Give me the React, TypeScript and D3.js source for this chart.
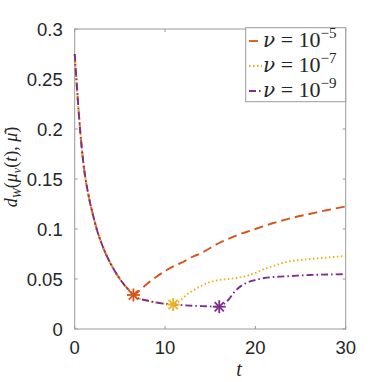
import React from 'react';
import * as d3 from 'd3';

// ---- data ----
const decayT = [0, 0.3, 0.6, 1, 1.5, 2, 2.5, 3, 3.5, 4, 4.5, 5, 5.5, 6, 6.5];
const decayD = [0.275, 0.235, 0.199, 0.163, 0.135, 0.115, 0.098, 0.085, 0.074, 0.065, 0.057, 0.050, 0.044, 0.039, 0.034];

const plateauT = [7, 8, 9, 10, 10.9];
const plateauD = [0.031, 0.0285, 0.0265, 0.0252, 0.0245];

const plateau2T = [12, 13, 14, 15, 16];
const plateau2D = [0.0238, 0.0233, 0.0229, 0.0226, 0.0223];

const tail5T = [7, 8, 9, 10, 11, 12, 13, 14, 15, 16, 17, 18, 19, 20, 22, 24, 26, 28, 30];
const tail5D = [0.037, 0.045, 0.052, 0.058, 0.063, 0.067, 0.072, 0.076, 0.081, 0.086, 0.090, 0.094, 0.097, 0.100, 0.106, 0.111, 0.115, 0.119, 0.1225];

const tail7T = [11.5, 12, 12.5, 13, 14, 15, 16, 17, 18, 19, 20, 21, 22, 23, 24, 25, 26, 28, 30];
const tail7D = [0.027, 0.031, 0.035, 0.038, 0.043, 0.047, 0.049, 0.050, 0.0512, 0.053, 0.056, 0.060, 0.063, 0.066, 0.068, 0.069, 0.070, 0.0715, 0.073];

const tail9T = [16.5, 17, 17.5, 18, 19, 20, 21, 22, 24, 26, 28, 30];
const tail9D = [0.025, 0.029, 0.035, 0.040, 0.046, 0.049, 0.051, 0.052, 0.053, 0.054, 0.0545, 0.0547];

const xTicks = [0, 10, 20, 30];
const xTickLabels = ['0', '10', '20', '30'];
const yTicks = [0, 0.05, 0.1, 0.15, 0.2, 0.25, 0.3];
const yTickLabels = ['0', '0.05', '0.1', '0.15', '0.2', '0.25', '0.3'];

const legendExponents = ['−5', '−7', '−9'];
const colors = ['#D95319', '#EDB120', '#7E2F8E'];
const dashes = ['9,5', '1.6,2.4', '7,3,1.6,3'];

function zip(ts: number[], ds: number[]) {
  return ts.map((t, i) => [t, ds[i]] as [number, number]);
}

const series5 = [...zip(decayT, decayD), ...zip(tail5T, tail5D)];
const series7 = [...zip(decayT, decayD), ...zip(plateauT, plateauD), ...zip(tail7T, tail7D)];
const series9 = [...zip(decayT, decayD), ...zip(plateauT, plateauD), ...zip(plateau2T, plateau2D), ...zip(tail9T, tail9D)];
const stars: [number, number][] = [
  [decayT[decayT.length - 1], decayD[decayD.length - 1]],
  [plateauT[plateauT.length - 1], plateauD[plateauD.length - 1]],
  [plateau2T[plateau2T.length - 1], plateau2D[plateau2D.length - 1]],
];

const L = 74.7, R = 345.7, T = 29, B = 329;

export default function App() {
  const x = d3.scaleLinear().domain([0, 30]).range([L, R]);
  const y = d3.scaleLinear().domain([0, 0.3]).range([B, T]);
  const line = d3.line<[number, number]>().x(d => x(d[0])).y(d => y(d[1])).curve(d3.curveMonotoneX);
  const all = [series5, series7, series9];
  const axisColor = '#9a9a9a';
  const textColor = '#262626';
  const tickFont = "'Liberation Sans', Arial, sans-serif";
  const mathFont = "'DejaVu Serif', 'Liberation Serif', serif";
  const labelFont = "'Liberation Serif', 'Times New Roman', serif";

  const star = (cx: number, cy: number, c: string, k: number) => {
    const r = 6.5;
    const segs = [0, 45, 90, 135].map(a => {
      const rad = (a * Math.PI) / 180;
      return (
        <line key={a} x1={cx - r * Math.cos(rad)} y1={cy - r * Math.sin(rad)} x2={cx + r * Math.cos(rad)} y2={cy + r * Math.sin(rad)} stroke={c} strokeWidth={1.8} />
      );
    });
    return <g key={k}>{segs}</g>;
  };

  const legTop = 27.7, legLeft = 245.7, legRight = 345.7, legBottom = 101.7;
  const rowY = [41, 66, 91];

  return (
    <svg width={382} height={382} style={{ position: 'absolute', left: 0, top: 0, background: '#fff' }}>
      <rect x={0} y={0} width={382} height={382} fill="#fff" />
      {/* axes box */}
      <rect x={L} y={T} width={R - L} height={B - T} fill="none" stroke={axisColor} strokeWidth={1} />
      {xTicks.map((t, i) => (
        <g key={'xt' + i}>
          <line x1={x(t)} x2={x(t)} y1={B} y2={B - 3} stroke={axisColor} />
          <line x1={x(t)} x2={x(t)} y1={T} y2={T + 3} stroke={axisColor} />
          <text x={x(t)} y={B + 25} textAnchor="middle" fontFamily={tickFont} fontSize={18.5} fill={textColor}>{xTickLabels[i]}</text>
        </g>
      ))}
      {yTicks.map((v, i) => (
        <g key={'yt' + i}>
          <line x1={L} x2={L + 3} y1={y(v)} y2={y(v)} stroke={axisColor} />
          <line x1={R} x2={R - 3} y1={y(v)} y2={y(v)} stroke={axisColor} />
          <text x={L - 12} y={y(v) + 6.5} textAnchor="end" fontFamily={tickFont} fontSize={18.5} fill={textColor}>{yTickLabels[i]}</text>
        </g>
      ))}
      {/* curves */}
      {all.map((s, i) => (
        <path key={'c' + i} d={line(s) || ''} fill="none" stroke={colors[i]} strokeWidth={1.9} strokeDasharray={dashes[i]} />
      ))}
      {stars.map((p, i) => star(x(p[0]), y(p[1]), colors[i], i))}
      {/* axis labels */}
      <text x={239} y={376} textAnchor="middle" fontFamily={labelFont} fontStyle="italic" fontSize={20} fill={textColor}>t</text>
      <text transform="translate(17,167) rotate(-90)" textAnchor="middle" fontFamily={labelFont} fontSize={18} fill={textColor}>
        <tspan fontStyle="italic">d</tspan>
        <tspan fontStyle="italic" fontSize={12} dy={3.5}>W</tspan>
        <tspan dy={-3.5}>(</tspan>
        <tspan fontStyle="italic">μ</tspan>
        <tspan fontStyle="italic" fontSize={12} dy={3.5}>ν</tspan>
        <tspan dy={-3.5}>(</tspan>
        <tspan fontStyle="italic">t</tspan>
        <tspan>), </tspan>
        <tspan fontStyle="italic">μ̄</tspan>
        <tspan>)</tspan>
      </text>
      {/* legend */}
      <rect x={legLeft} y={legTop} width={legRight - legLeft} height={legBottom - legTop} fill="#fff" stroke={axisColor} strokeWidth={1} />
      {colors.map((c, i) => (
        <g key={'lg' + i}>
          <line x1={249} x2={262} y1={rowY[i]} y2={rowY[i]} stroke={c} strokeWidth={1.8} strokeDasharray={dashes[i]} />
          <text x={263} y={rowY[i] + 6} fontFamily="'Liberation Serif', serif" fontSize={22} fill={textColor}>
            <tspan fontFamily={mathFont} fontStyle="italic" fontSize={20}>ν</tspan>
            <tspan> = 10</tspan>
            <tspan fontSize={15} dy={-9}>{legendExponents[i]}</tspan>
          </text>
        </g>
      ))}
    </svg>
  );
}
